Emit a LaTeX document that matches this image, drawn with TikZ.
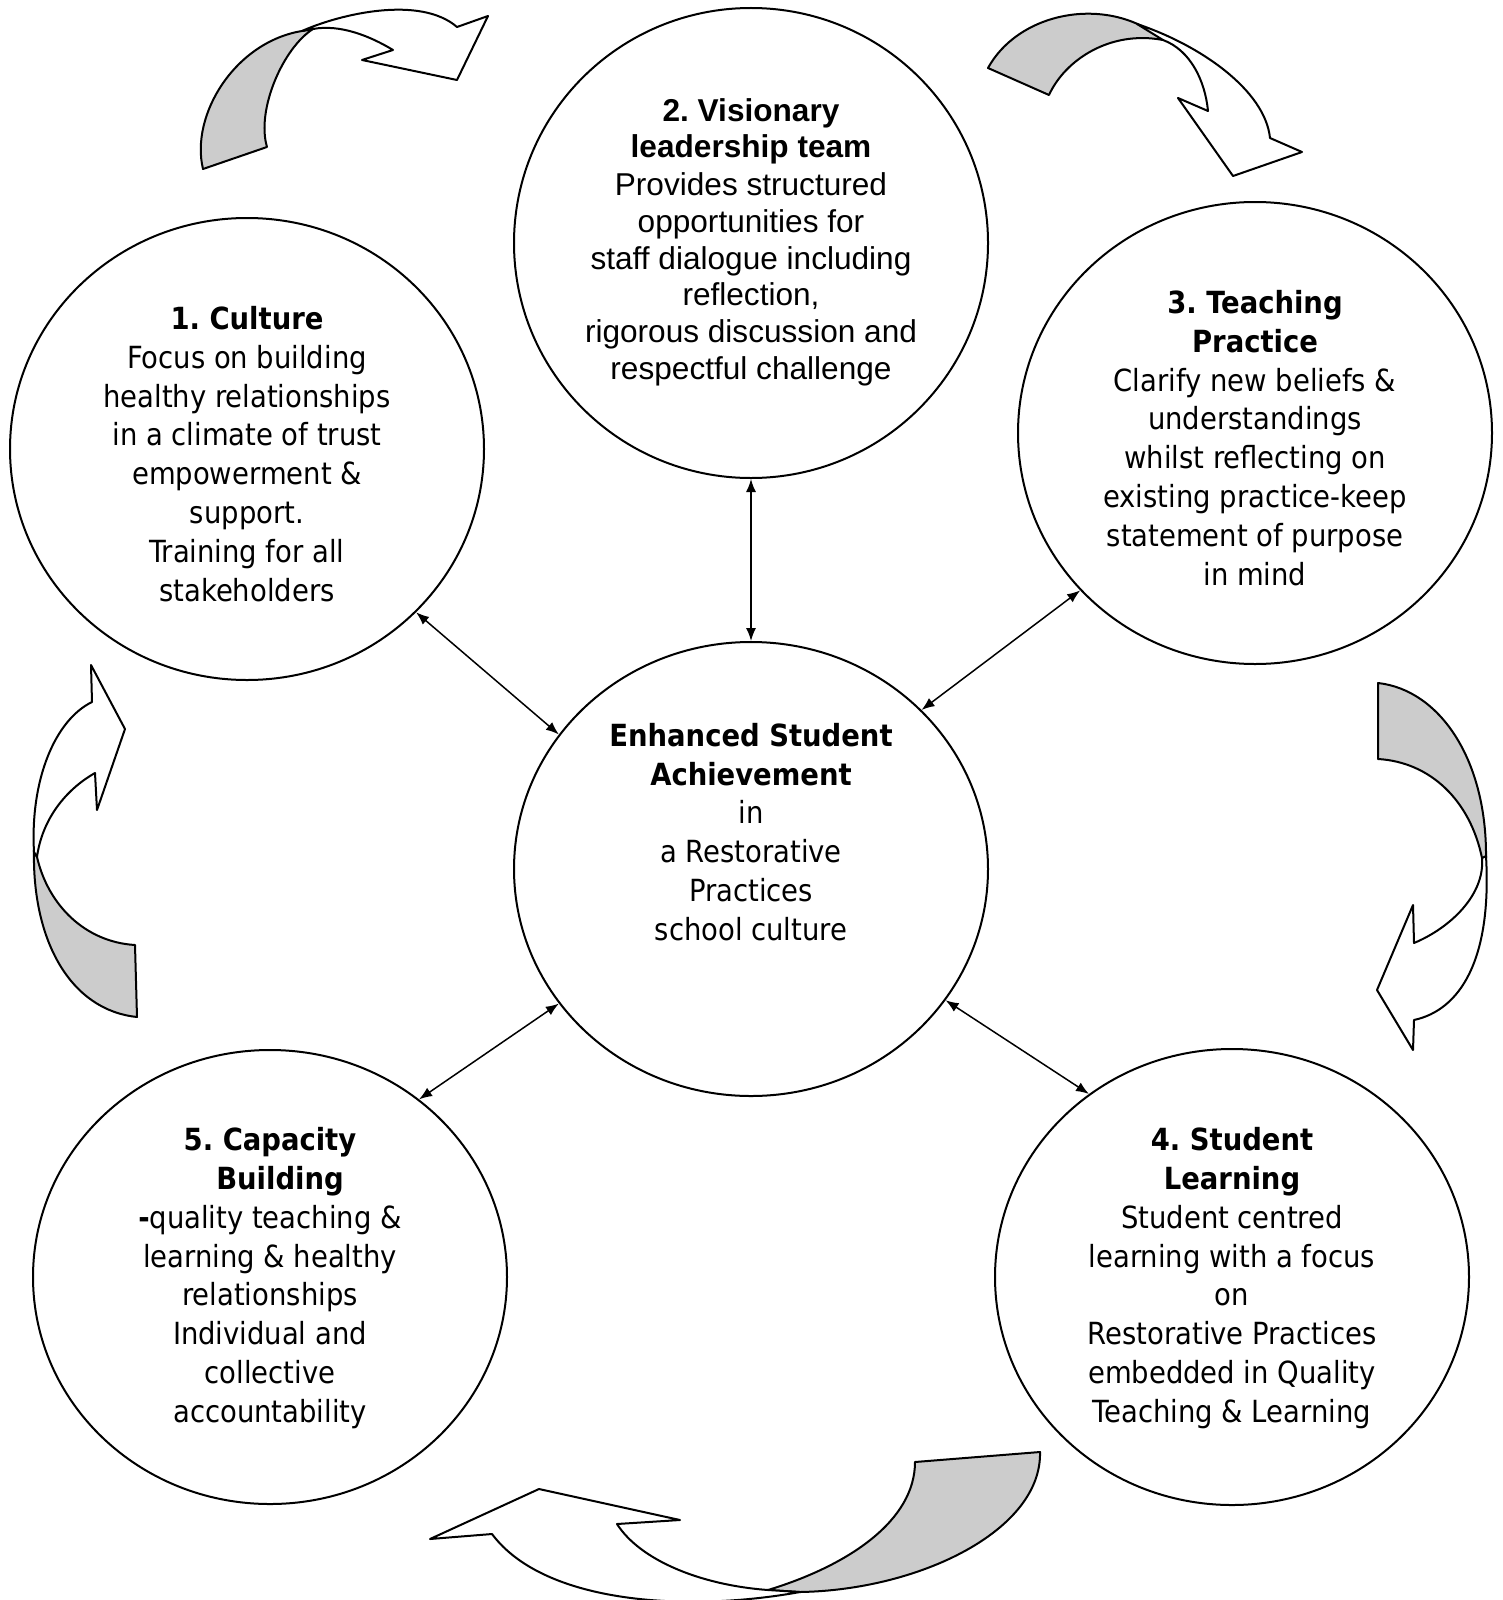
\documentclass[tikz,border=0pt]{standalone}
\usepackage{fontspec}
\setmainfont{DejaVu Sans Condensed}
\newfontfamily\arialfont{Liberation Sans}
\usetikzlibrary{arrows.meta,shapes.geometric}
\frenchspacing

\begin{document}
\begin{tikzpicture}[x=1pt, y=-1pt, line width=2pt,
	bubble/.style={draw, ellipse, minimum width=474pt, inner sep=0pt},
	words/.style={align=center, font=\fontsize{30.5}{38.8}\selectfont},
	link/.style={{Latex[length=13pt,width=10pt]}-{Latex[length=13pt,width=10pt]}, line width=1.5pt},
	back/.style={draw, fill=black!20, line join=round},
	front/.style={draw, fill=white, line join=round}]
	\useasboundingbox (0,0) rectangle (1503,1600);
	\node[bubble, minimum height=462pt] (culture) at (247,449) {};
	\node[bubble, minimum height=470pt] (vision) at (751,243) {};
	\node[bubble, minimum height=462pt] (teaching) at (1255,433) {};
	\node[bubble, minimum height=454pt] (core) at (751,869) {};
	\node[bubble, minimum height=454pt] (capacity) at (270,1277) {};
	\node[bubble, minimum height=456pt] (learning) at (1232,1277) {};
	\node[words] (culturetext) at ([yshift=-5pt]culture.center) {\textbf{1. Culture}\\Focus on building\\healthy relationships\\in a climate of trust\\empowerment \&\\support.\\Training for all\\stakeholders};
	\node[align=center, font=\arialfont\fontsize{31.6}{36.7}\selectfont] (visiontext) at ([yshift=1pt]vision.center) {\textbf{2. Visionary}\\\textbf{leadership team}\\[1pt]Provides structured\\opportunities for\\staff dialogue including\\reflection,\\rigorous discussion and\\respectful challenge};
	\node[words] (teachingtext) at ([yshift=-5pt]teaching.center) {\textbf{3. Teaching}\\\textbf{Practice}\\Clarify new beliefs \&\\understandings\\whilst reflecting on\\existing practice-keep\\statement of purpose\\in mind};
	\node[words] (coretext) at ([yshift=37pt]core.center) {\textbf{Enhanced Student}\\\textbf{Achievement}\\in\\a Restorative\\Practices\\school culture};
	\node[words] (capacitytext) at ([yshift=-1pt]capacity.center) {\textbf{5. Capacity}\\\hspace*{20pt}\textbf{Building}\\\textbf{-}quality teaching \&\\learning \& healthy\\relationships\\Individual and\\collective\\accountability};
	\node[words] (learningtext) at ([yshift=-1pt]learning.center) {\textbf{4. Student}\\\textbf{Learning}\\Student centred\\learning with a focus\\on\\Restorative Practices\\embedded in Quality\\Teaching \& Learning};
	\draw[link] (vision.south) -- (core.north);
	\draw[link] (culture.-44) -- (core.145);
	\draw[link] (teaching.222) -- (core.43);
	\draw[link] (core.215) -- (capacity.50);
	\draw[link] (core.326) -- (learning.128);
	\draw[back] (203,169) .. controls (190,115) and (235,42) .. (302,31) -- (313,29) .. controls (283,48) and (256,110) .. (267,147) -- cycle;
	\draw[front] (302,31) .. controls (340,14) and (420,-5) .. (457,27) -- (488,16) -- (457,80) -- (362,60) -- (393,50) .. controls (370,36) and (340,24) .. (313,29) -- cycle;
	\draw[back] (988,68) .. controls (1020,10) and (1110,-5) .. (1163,40) .. controls (1110,30) and (1065,60) .. (1049,95) -- cycle;
	\draw[front] (1137,24) .. controls (1200,45) and (1265,90) .. (1270,138) -- (1302,152) -- (1233,176) -- (1178,98) -- (1208,111) .. controls (1205,80) and (1190,50) .. (1163,40) -- cycle;
	\draw[back] (1378,683) .. controls (1440,690) and (1487,760) .. (1486,858) -- (1482,858) .. controls (1470,800) and (1430,762) .. (1378,759) -- cycle;
	\draw[front] (1486,856) .. controls (1492,960) and (1460,1010) .. (1414,1020) -- (1413,1050) -- (1377,990) -- (1413,905) -- (1414,943) .. controls (1450,928) and (1485,895) .. (1482,858) -- cycle;
	\draw[back] (137,1017) .. controls (70,1010) and (32,940) .. (34,850) -- (37,857) .. controls (48,905) and (85,942) .. (135,945) -- cycle;
	\draw[front] (34,852) .. controls (30,780) and (55,720) .. (92,702) -- (91,665) -- (125,729) -- (97,810) -- (95,773) .. controls (65,790) and (42,820) .. (37,857) -- cycle;
	\draw[back] (1040,1452) .. controls (1042,1530) and (920,1590) .. (800,1592) -- (768,1590) .. controls (850,1565) and (915,1520) .. (915,1462) -- cycle;
	\draw[front] (800,1592) .. controls (690,1612) and (545,1605) .. (492,1534) -- (430,1539) -- (539,1489) -- (680,1520) -- (617,1524) .. controls (640,1560) and (700,1585) .. (768,1590) -- cycle;
\end{tikzpicture}
\end{document}
